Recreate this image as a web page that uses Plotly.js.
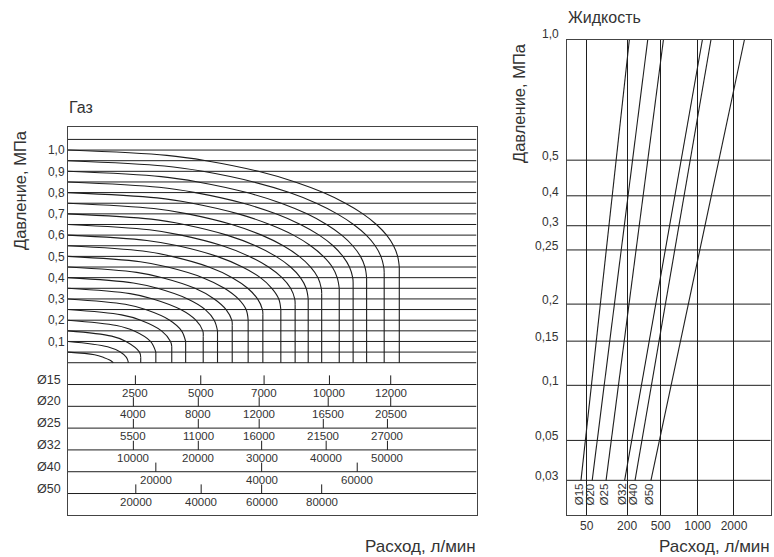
<!DOCTYPE html>
<html>
<head>
<meta charset="utf-8">
<script src="https://cdn.plot.ly/plotly-3.0.1.min.js"></script>
<style>html,body{margin:0;padding:0;background:#fff}#chart{width:774px;height:557px}</style>
</head>
<body>
<div id="chart"></div>
<script>
// ================= DATA =================
// --- Gas chart (left): output pressure (MPa) vs relative flow position ---
const gasInletPressure = [0.05,0.10,0.15,0.20,0.25,0.30,0.35,0.40,0.45,0.50,0.55,0.60,0.65,0.70,0.75,0.80,0.85,0.90,0.95,1.00];
const gasCurveFlow = [
  [0, 6.5, 8.7, 10.2, 11.1],
  [0, 9.7, 12.8, 14.3, 14.8],
  [0, 10.7, 14.2, 17.5, 17.8],
  [0, 11.9, 16.1, 20.2, 21.5],
  [0, 13.1, 17.8, 22.9, 25.1, 25.4],
  [0, 14.0, 19.0, 24.9, 27.8, 28.8],
  [0, 15.2, 20.8, 27.6, 31.3, 33.0, 33.1],
  [0, 16.0, 21.9, 29.3, 33.6, 35.8, 36.6],
  [0, 16.8, 23.1, 31.1, 35.8, 38.7, 40.1, 40.2],
  [0, 17.7, 24.4, 33.0, 38.3, 41.7, 43.6, 44.1],
  [0, 18.3, 25.4, 34.5, 40.2, 44.0, 46.4, 47.6, 47.7],
  [0, 19.3, 26.9, 36.5, 42.7, 47.1, 49.9, 51.6, 52.1],
  [0, 19.9, 27.7, 37.8, 44.4, 49.1, 52.4, 54.5, 55.5, 55.6],
  [0, 20.4, 28.4, 38.9, 45.9, 50.9, 54.5, 56.9, 58.3, 58.8],
  [0, 21.0, 29.3, 40.1, 47.4, 52.7, 56.6, 59.4, 61.2, 62.0, 62.1],
  [0, 21.8, 30.4, 41.7, 49.4, 55.2, 59.4, 62.5, 64.7, 65.9, 66.4],
  [0, 22.3, 31.2, 42.9, 50.9, 56.9, 61.5, 64.9, 67.3, 68.9, 69.7, 69.8],
  [0, 22.8, 31.8, 43.8, 52.2, 58.5, 63.3, 67.0, 69.7, 71.6, 72.7, 73.1],
  [0, 23.6, 33.0, 45.4, 54.2, 60.8, 65.9, 69.9, 73.0, 75.2, 76.6, 77.3, 77.4],
  [0, 24.2, 33.8, 46.6, 55.6, 62.5, 67.9, 72.2, 75.5, 78.0, 79.7, 80.7, 81.1]
];
const gasCurvePressure = [
  [0.05, 0.0375, 0.025, 0.0125, 0],
  [0.10, 0.075, 0.05, 0.025, 0],
  [0.15, 0.125, 0.10, 0.05, 0.025],
  [0.20, 0.175, 0.15, 0.10, 0.05],
  [0.25, 0.225, 0.20, 0.15, 0.10, 0.075],
  [0.30, 0.275, 0.25, 0.20, 0.15, 0.10],
  [0.35, 0.325, 0.30, 0.25, 0.20, 0.15, 0.125],
  [0.40, 0.375, 0.35, 0.30, 0.25, 0.20, 0.15],
  [0.45, 0.425, 0.40, 0.35, 0.30, 0.25, 0.20, 0.175],
  [0.50, 0.475, 0.45, 0.40, 0.35, 0.30, 0.25, 0.20],
  [0.55, 0.525, 0.50, 0.45, 0.40, 0.35, 0.30, 0.25, 0.225],
  [0.60, 0.575, 0.55, 0.50, 0.45, 0.40, 0.35, 0.30, 0.25],
  [0.65, 0.625, 0.60, 0.55, 0.50, 0.45, 0.40, 0.35, 0.30, 0.275],
  [0.70, 0.675, 0.65, 0.60, 0.55, 0.50, 0.45, 0.40, 0.35, 0.30],
  [0.75, 0.725, 0.70, 0.65, 0.60, 0.55, 0.50, 0.45, 0.40, 0.35, 0.325],
  [0.80, 0.775, 0.75, 0.70, 0.65, 0.60, 0.55, 0.50, 0.45, 0.40, 0.35],
  [0.85, 0.825, 0.80, 0.75, 0.70, 0.65, 0.60, 0.55, 0.50, 0.45, 0.40, 0.375],
  [0.90, 0.875, 0.85, 0.80, 0.75, 0.70, 0.65, 0.60, 0.55, 0.50, 0.45, 0.40],
  [0.95, 0.925, 0.90, 0.85, 0.80, 0.75, 0.70, 0.65, 0.60, 0.55, 0.50, 0.45, 0.425],
  [1.00, 0.975, 0.95, 0.90, 0.85, 0.80, 0.75, 0.70, 0.65, 0.60, 0.55, 0.50, 0.45]
];
const gasPressureTicks  = [0.1,0.2,0.3,0.4,0.5,0.6,0.7,0.8,0.9,1.0];
const gasPressureLabels = ['0,1','0,2','0,3','0,4','0,5','0,6','0,7','0,8','0,9','1,0'];
const gasDiameters = ['Ø15','Ø20','Ø25','Ø32','Ø40','Ø50'];
const gasScaleLabels = [
  ['2500','5000','7000','10000','12000'],
  ['4000','8000','12000','16500','20500'],
  ['5500','11000','16000','21500','27000'],
  ['10000','20000','30000','40000','50000'],
  ['20000','40000','60000'],
  ['20000','40000','60000','80000']
];
const gasScalePos = [
  [16.5, 32.5, 48.0, 64.0, 79.0],
  [16.0, 31.9, 46.8, 63.7, 79.0],
  [16.0, 31.9, 46.8, 62.5, 78.2],
  [16.0, 31.9, 47.4, 63.2, 78.2],
  [21.5, 47.4, 70.8],
  [16.6, 32.6, 47.4, 62.1]
];

// --- Liquid chart (right): nomogram scale positions ---
const liquidPressureLabels = ['0,03','0,05','0,1','0,15','0,2','0,25','0,3','0,4','0,5','1,0'];
const liquidPressurePos    = [7.3, 15.7, 27.3, 36.6, 44.4, 55.8, 60.9, 67.2, 74.7, 100];
const liquidFlowLabels = ['50','200','500','1000','2000'];
const liquidFlowPos    = [9.8, 29.6, 46.1, 64.2, 82.0];
const liquidDiameters  = ['Ø15','Ø20','Ø25','Ø32','Ø40','Ø50'];
const liquidFlowAtLow  = [7.0, 12.5, 19.3, 28.4, 33.5, 41.3];   // at 0,03 MPa
const liquidFlowAtHigh = [30.7, 39.7, 47.4, 66.5, 70.7, 87.1];  // at 1,0 MPa

// ================= BUILD =================
const FONT = 'Liberation Sans, Arial, Helvetica, sans-serif';
const LINE = '#1e1e1e';
const TXT = '#333';
const traces = [];
const shapes = [];
const annotations = [];

// gas horizontal grid: every 0.05 MPa from 0 to 1.05
for (let k = 0; k <= 21; k++) {
  const y = k * 0.05;
  shapes.push({type:'line', xref:'x', yref:'y', x0:0, x1:100, y0:y, y1:y, line:{color:LINE, width:1}});
}
// gas curves
const vx = [], vy = [];
gasCurveFlow.forEach((fx, i) => {
  const fy = gasCurvePressure[i];
  traces.push({type:'scatter', mode:'lines', x:fx, y:fy, xaxis:'x', yaxis:'y',
    line:{color:LINE, width:1.1, shape:'spline', smoothing:1}, hoverinfo:'skip'});
  const lx = fx[fx.length-1], ly = fy[fy.length-1];
  if (ly > 0) { vx.push(lx, lx, null); vy.push(ly, 0, null); }
});
traces.push({type:'scatter', mode:'lines', x:vx, y:vy, xaxis:'x', yaxis:'y',
  line:{color:LINE, width:1.1}, hoverinfo:'skip'});

// gas diameter scale rows
const ROW = 0.1025;
gasDiameters.forEach((d, i) => {
  const y = -(i + 1) * ROW;
  shapes.push({type:'line', xref:'x', yref:'y', x0:0, x1:100, y0:y, y1:y, line:{color:LINE, width:1}});
  annotations.push({xref:'x', yref:'y', x:0, y:y, text:d, showarrow:false, xanchor:'right', yanchor:'middle',
    xshift:-5, yshift:5, font:{family:FONT, size:12.5, color:TXT}});
  gasScalePos[i].forEach((px, j) => {
    shapes.push({type:'line', xref:'x', yref:'y', x0:px, x1:px, y0:y, y1:y + 0.043, line:{color:LINE, width:1}});
    annotations.push({xref:'x', yref:'y', x:px, y:y, text:gasScaleLabels[i][j], showarrow:false,
      xanchor:'center', yanchor:'top', yshift:0, font:{family:FONT, size:11.5, color:TXT}});
  });
});

// liquid grid
liquidPressurePos.forEach((p, i) => {
  if (p < 100) shapes.push({type:'line', xref:'x2', yref:'y2', x0:0, x1:100, y0:p, y1:p, line:{color:LINE, width:1}});
  annotations.push({xref:'x2', yref:'y2', x:0, y:p, text:liquidPressureLabels[i], showarrow:false,
    xanchor:'right', yanchor:'middle', xshift:-6, yshift:(p === 100 ? 6 : 4), font:{family:FONT, size:12, color:TXT}});
});
const lowPos = liquidPressurePos[0], highPos = liquidPressurePos[liquidPressurePos.length - 1];
liquidDiameters.forEach((d, i) => {
  traces.push({type:'scatter', mode:'lines', x:[liquidFlowAtLow[i], liquidFlowAtHigh[i]], y:[lowPos, highPos],
    xaxis:'x2', yaxis:'y2', line:{color:LINE, width:1.1}, hoverinfo:'skip'});
  annotations.push({xref:'x2', yref:'y2', x:liquidFlowAtLow[i], y:lowPos, text:d, showarrow:false, textangle:-90,
    xanchor:'center', yanchor:'top', xshift:-2, yshift:-1, font:{family:FONT, size:11.5, color:TXT}});
});

// titles
const tfont = {family:FONT, size:16, color:TXT};
const afont = {family:FONT, size:16.5, color:TXT};
annotations.push(
  {xref:'paper', yref:'paper', x:67/774, y:1-108/557, text:'Газ', showarrow:false, xanchor:'left', yanchor:'middle', font:tfont},
  {xref:'paper', yref:'paper', x:566/774, y:1-18/557, text:'Жидкость', showarrow:false, xanchor:'left', yanchor:'middle', font:tfont},
  {xref:'paper', yref:'paper', x:20/774, y:1-190/557, text:'Давление, МПа', showarrow:false, textangle:-90, xanchor:'center', yanchor:'middle', font:afont},
  {xref:'paper', yref:'paper', x:519/774, y:1-103/557, text:'Давление, МПа', showarrow:false, textangle:-90, xanchor:'center', yanchor:'middle', font:afont},
  {xref:'paper', yref:'paper', x:478/774, y:1-546/557, text:'Расход, л/мин', showarrow:false, xanchor:'right', yanchor:'middle', font:{family:FONT, size:17, color:TXT}},
  {xref:'paper', yref:'paper', x:772/774, y:1-546/557, text:'Расход, л/мин', showarrow:false, xanchor:'right', yanchor:'middle', font:{family:FONT, size:17, color:TXT}}
);

const layout = {
  width:774, height:557,
  margin:{l:0, r:0, t:0, b:0},
  paper_bgcolor:'#fff', plot_bgcolor:'rgba(0,0,0,0)',
  showlegend:false,
  font:{family:FONT, size:11, color:TXT},
  xaxis:{domain:[68/774, 476.5/774], range:[0,100], showgrid:false, zeroline:false, showticklabels:false,
    showline:true, mirror:true, linecolor:'#444', linewidth:1, ticks:'', fixedrange:true},
  yaxis:{domain:[42/557, 429.7/557], range:[-0.716, 1.107], tickvals:gasPressureTicks, ticktext:gasPressureLabels,
    showgrid:false, zeroline:false, showline:true, mirror:true, linecolor:'#444', linewidth:1, ticks:'',
    tickfont:{family:FONT, size:12, color:TXT}, fixedrange:true},
  xaxis2:{domain:[566.7/774, 770.7/774], range:[0,100], anchor:'y2', tickvals:liquidFlowPos, ticktext:liquidFlowLabels,
    showgrid:true, gridcolor:LINE, gridwidth:1, zeroline:false, showline:true, mirror:true, linecolor:'#444', linewidth:1,
    ticks:'', tickfont:{family:FONT, size:12, color:TXT}, fixedrange:true},
  yaxis2:{domain:[42/557, 517/557], range:[0,100], anchor:'x2', showticklabels:false, showgrid:false, zeroline:false,
    showline:true, mirror:true, linecolor:'#444', linewidth:1, ticks:'', fixedrange:true},
  shapes:shapes,
  annotations:annotations
};

Plotly.newPlot('chart', traces, layout, {displayModeBar:false, staticPlot:true});
</script>
</body>
</html>
